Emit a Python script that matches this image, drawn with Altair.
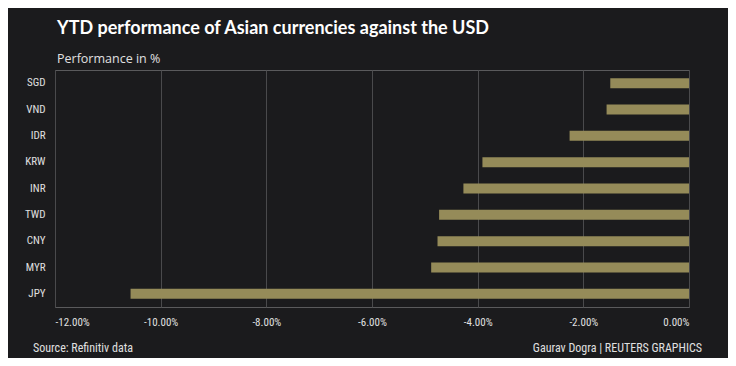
import altair as alt
import pandas as pd

currencies = ["SGD", "VND", "IDR", "KRW", "INR", "TWD", "CNY", "MYR", "JPY"]
performance = [-1.49, -1.56, -2.26, -3.91, -4.27, -4.73, -4.76, -4.88, -10.57]
x_ticks = [-12, -10, -8, -6, -4, -2, 0]

df = pd.DataFrame({"currency": currencies, "perf": performance})

bg = "#1b1b1d"
bar_color = "#958b59"
narrow = "Liberation Sans Narrow, Roboto Condensed, Roboto, sans-serif"

x_enc = alt.X(
    "perf:Q",
    scale=alt.Scale(domain=[-12, 0], nice=False, zero=False),
    axis=alt.Axis(
        values=x_ticks,
        title=None,
        grid=True,
        gridColor="#4a4a4c",
        gridWidth=1,
        domain=False,
        ticks=False,
        labelColor="#e0e0e0",
        labelFont=narrow,
        labelFontSize=11,
        labelPadding=9,
        labelExpr="replace(format(datum.value, '.2f'), '\u2212', '-') + '%'",
    ),
)

y_enc = alt.Y(
    "currency:N",
    sort=currencies,
    scale=alt.Scale(paddingInner=0.62, paddingOuter=0.31),
    axis=alt.Axis(
        title=None,
        domain=False,
        ticks=False,
        grid=False,
        labelColor="#e0e0e0",
        labelFont=narrow,
        labelFontSize=11,
        labelPadding=10,
    ),
)

bars = alt.Chart(df).mark_bar(color=bar_color).encode(
    x=x_enc, x2=alt.datum(0), y=y_enc
)

notes = pd.DataFrame({"t": ["Source: Refinitiv data"]})
source = alt.Chart(notes).mark_text(
    align="left", baseline="alphabetic", color="#e0e0e0", font=narrow, fontSize=12
).encode(x=alt.value(-22), y=alt.value(282), text="t:N")

credit_df = pd.DataFrame({"t": ["Gaurav Dogra | REUTERS GRAPHICS"]})
credit = alt.Chart(credit_df).mark_text(
    align="right", baseline="alphabetic", color="#e0e0e0", font=narrow, fontSize=12
).encode(x=alt.value(647), y=alt.value(282), text="t:N")

chart = (
    alt.layer(bars, source, credit)
    .properties(
        width=634,
        height=237,
        padding={"left": 47, "top": 62, "right": 39, "bottom": 51},
        autosize=alt.AutoSizeParams(type="none"),
        background=bg,
        title=alt.TitleParams(
            text="YTD performance of Asian currencies against the USD",
            subtitle="Performance in %",
            anchor="start",
            frame="group",
            font="Lato, Open Sans, sans-serif",
            fontSize=18,
            fontWeight="bold",
            color="#ffffff",
            subtitleFont="Open Sans, sans-serif",
            subtitleFontSize=12.5,
            subtitleColor="#e0e0e0",
            subtitlePadding=15,
            offset=5,
            dx=2,
        ),
    )
    .configure_view(stroke="#5a5a5c", strokeWidth=1)
)

chart.save("out.html", embed_options={"renderer": "svg", "actions": False})
